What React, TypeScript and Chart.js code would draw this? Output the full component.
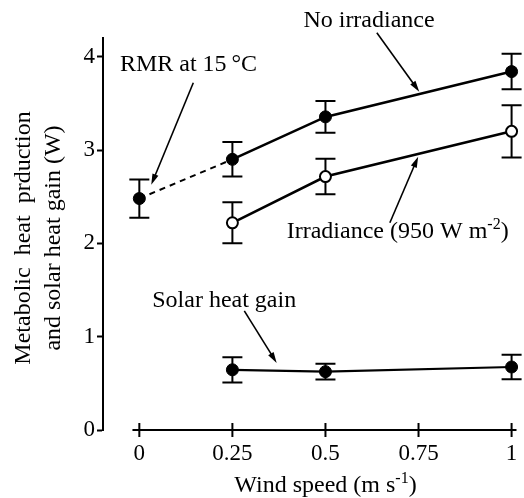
import React, { useEffect, useRef } from 'react';
import { Chart, registerables } from 'chart.js';

Chart.register(...registerables);

// ---- data ----
const windSpeeds = [0.25, 0.5, 1];
const rmrX = [0, 0.25];
const rmrY = [2.48, 2.9];
const rmrErr = [0.205];
const noIrradiance = [2.9, 3.355, 3.84];
const noIrradianceErr = [0.185, 0.17, 0.19];
const irradiance = [2.22, 2.715, 3.2];
const irradianceErr = [0.22, 0.19, 0.28];
const solarGain = [0.645, 0.625, 0.675];
const solarGainErr = [0.135, 0.085, 0.13];
const xTicks = [0, 0.25, 0.5, 0.75, 1];
const xTickLabels = ['0', '0.25', '0.5', '0.75', '1'];
const yTicks = [0, 1, 2, 3, 4];
const yTickLabels = ['0', '1', '2', '3', '4'];

const xTitle = [{ t: 'Wind speed (m s' }, { t: '-1', sup: true }, { t: ')' }];
const yTitleLines = ['Metabolic  heat  prduction', 'and solar heat gain (W)'];

// annotations (text anchor and arrow tail/head in data units)
const annotations = [
  { parts: [{ t: 'No irradiance' }], tx: 0.617, ty: 4.32, align: 'center', ax1: 0.638, ay1: 4.257, ax2: 0.752, ay2: 3.625 },
  { parts: [{ t: 'RMR at 15\u2009°C' }], tx: 0.132, ty: 3.85, align: 'center', ax1: 0.145, ay1: 3.72, ax2: 0.032, ay2: 2.627 },
  { parts: [{ t: 'Irradiance (950 W m' }, { t: '-2', sup: true }, { t: ')' }], tx: 0.396, ty: 2.06, align: 'left', ax1: 0.673, ay1: 2.22, ax2: 0.749, ay2: 2.928 },
  { parts: [{ t: 'Solar heat gain' }], tx: 0.228, ty: 1.319, align: 'center', ax1: 0.282, ay1: 1.276, ax2: 0.369, ay2: 0.718 },
];

const FAMILY = '"Liberation Serif", "Times New Roman", serif';
const MAIN_FONT = `24px ${FAMILY}`;
const SUP_FONT = `16px ${FAMILY}`;

const pts = (xs: number[], ys: number[]) => ys.map((v, i) => ({ x: xs[i], y: v }));

function drawRich(ctx: CanvasRenderingContext2D, parts: any[], x: number, y: number, align: string) {
  let total = 0;
  const widths = parts.map((p) => {
    ctx.font = p.sup ? SUP_FONT : MAIN_FONT;
    const w = ctx.measureText(p.t).width;
    total += w;
    return w;
  });
  let cx = align === 'center' ? x - total / 2 : align === 'right' ? x - total : x;
  ctx.textAlign = 'left';
  ctx.textBaseline = 'alphabetic';
  parts.forEach((p, i) => {
    ctx.font = p.sup ? SUP_FONT : MAIN_FONT;
    ctx.fillText(p.t, cx, p.sup ? y - 9 : y);
    cx += widths[i];
  });
}

function drawArrow(ctx: CanvasRenderingContext2D, x1: number, y1: number, x2: number, y2: number) {
  const ang = Math.atan2(y2 - y1, x2 - x1);
  const len = 11;
  const half = 3.2;
  const c = Math.cos(ang);
  const s = Math.sin(ang);
  ctx.lineWidth = 1.6;
  ctx.beginPath();
  ctx.moveTo(x1, y1);
  ctx.lineTo(x2 - c * len * 0.7, y2 - s * len * 0.7);
  ctx.stroke();
  const bx = x2 - c * len;
  const by = y2 - s * len;
  ctx.beginPath();
  ctx.moveTo(x2, y2);
  ctx.lineTo(bx - s * half, by + c * half);
  ctx.lineTo(bx + s * half, by - c * half);
  ctx.closePath();
  ctx.fill();
}

const overlayPlugin = {
  id: 'overlay',
  beforeDatasetsDraw(chart: any) {
    const { ctx, chartArea } = chart;
    const xs = chart.scales.x;
    const ys = chart.scales.y;
    ctx.save();
    ctx.strokeStyle = '#000';
    ctx.fillStyle = '#000';
    ctx.lineWidth = 2;
    // x axis line (starts a little left of 0)
    const y0 = ys.getPixelForValue(0);
    ctx.beginPath();
    ctx.moveTo(xs.getPixelForValue(-0.0185), y0);
    ctx.lineTo(chartArea.right, y0);
    ctx.stroke();
    xTicks.forEach((t) => {
      const px = xs.getPixelForValue(t);
      ctx.beginPath();
      ctx.moveTo(px, y0 - 7);
      ctx.lineTo(px, y0 + 7);
      ctx.stroke();
    });
    // error bars
    const bars = (xv: number[], yv: number[], ev: number[]) => {
      ev.forEach((e, i) => {
        const px = xs.getPixelForValue(xv[i]);
        const top = ys.getPixelForValue(yv[i] + e);
        const bot = ys.getPixelForValue(yv[i] - e);
        ctx.beginPath();
        ctx.moveTo(px, top);
        ctx.lineTo(px, bot);
        ctx.moveTo(px - 10, top);
        ctx.lineTo(px + 10, top);
        ctx.moveTo(px - 10, bot);
        ctx.lineTo(px + 10, bot);
        ctx.stroke();
      });
    };
    bars(rmrX, rmrY, rmrErr);
    bars(windSpeeds, noIrradiance, noIrradianceErr);
    bars(windSpeeds, irradiance, irradianceErr);
    bars(windSpeeds, solarGain, solarGainErr);
    ctx.restore();
  },
  afterDraw(chart: any) {
    const { ctx, chartArea } = chart;
    const xs = chart.scales.x;
    const ys = chart.scales.y;
    ctx.save();
    ctx.fillStyle = '#000';
    ctx.strokeStyle = '#000';
    annotations.forEach((a) => {
      drawRich(ctx, a.parts, xs.getPixelForValue(a.tx), ys.getPixelForValue(a.ty), a.align);
      drawArrow(ctx, xs.getPixelForValue(a.ax1), ys.getPixelForValue(a.ay1), xs.getPixelForValue(a.ax2), ys.getPixelForValue(a.ay2));
    });
    // x title
    const xc = (xs.getPixelForValue(xTicks[0]) + xs.getPixelForValue(xTicks[xTicks.length - 1])) / 2;
    drawRich(ctx, xTitle, xc, chartArea.bottom + 62, 'center');
    // y title
    const yc = (chartArea.top + chartArea.bottom) / 2 + 4;
    ctx.translate(0, yc);
    ctx.rotate(-Math.PI / 2);
    ctx.font = MAIN_FONT;
    ctx.textAlign = 'center';
    ctx.textBaseline = 'alphabetic';
    ctx.fillText(yTitleLines[0], 0, 29.5);
    ctx.fillText(yTitleLines[1], 0, 60);
    ctx.restore();
  },
};

export default function App() {
  const ref = useRef<HTMLCanvasElement>(null);
  useEffect(() => {
    if (!ref.current) return;
    const chart = new Chart(ref.current, {
      type: 'scatter',
      data: {
        datasets: [
          {
            data: pts(rmrX, rmrY),
            showLine: true,
            borderColor: '#000',
            borderWidth: 2,
            borderDash: [6, 5],
            pointRadius: 0,
          },
          {
            data: pts(rmrX.slice(0, 1), rmrY.slice(0, 1)),
            showLine: false,
            pointRadius: 6,
            pointBorderWidth: 1,
            pointBackgroundColor: '#000',
            pointBorderColor: '#000',
          },
          {
            data: pts(windSpeeds, noIrradiance),
            showLine: true,
            borderColor: '#000',
            borderWidth: 2.6,
            pointRadius: 6,
            pointBorderWidth: 1,
            pointBackgroundColor: '#000',
            pointBorderColor: '#000',
          },
          {
            data: pts(windSpeeds, irradiance),
            showLine: true,
            borderColor: '#000',
            borderWidth: 2.6,
            pointRadius: 5.5,
            pointBorderWidth: 2,
            pointBackgroundColor: '#fff',
            pointBorderColor: '#000',
          },
          {
            data: pts(windSpeeds, solarGain),
            showLine: true,
            borderColor: '#000',
            borderWidth: 2.2,
            pointRadius: 6,
            pointBorderWidth: 1,
            pointBackgroundColor: '#000',
            pointBorderColor: '#000',
          },
        ],
      },
      plugins: [overlayPlugin],
      options: {
        animation: false,
        responsive: false,
        devicePixelRatio: 1,
        clip: false as any,
        layout: { padding: { top: 38, left: 0, right: 0, bottom: 0 } },
        plugins: { legend: { display: false }, tooltip: { enabled: false } },
        scales: {
          x: {
            type: 'linear',
            min: -0.0976,
            max: 1.0132,
            grid: { display: false, drawTicks: false },
            border: { display: false },
            ticks: {
              color: '#000',
              padding: 10,
              maxRotation: 0,
              font: { family: FAMILY, size: 23 },
              callback: (v: any) => {
                const i = xTicks.indexOf(Number(v));
                return i >= 0 ? xTickLabels[i] : '';
              },
            },
            afterBuildTicks: (s: any) => {
              s.ticks = xTicks.map((v) => ({ value: v }));
            },
            afterFit: (s: any) => {
              s.height = 68;
              s.paddingLeft = 0;
              s.paddingRight = 0;
            },
          },
          y: {
            type: 'linear',
            min: 0,
            max: 4.2,
            grid: { drawOnChartArea: false, drawTicks: true, tickLength: 6, tickWidth: 2, tickColor: '#000' },
            border: { display: true, color: '#000', width: 2 },
            ticks: {
              color: '#000',
              padding: 2,
              font: { family: FAMILY, size: 23 },
              callback: (v: any) => {
                const i = yTicks.indexOf(Number(v));
                return i >= 0 ? yTickLabels[i] : '';
              },
            },
            afterBuildTicks: (s: any) => {
              s.ticks = yTicks.map((v) => ({ value: v }));
            },
            afterFit: (s: any) => {
              s.width = 103;
              s.paddingTop = 0;
              s.paddingBottom = 0;
            },
          },
        },
      } as any,
    });
    return () => chart.destroy();
  }, []);
  return (
    <div style={{ position: 'absolute', left: 0, top: 0, width: 524, height: 498, background: '#fff' }}>
      <canvas ref={ref} width={524} height={498} />
    </div>
  );
}
